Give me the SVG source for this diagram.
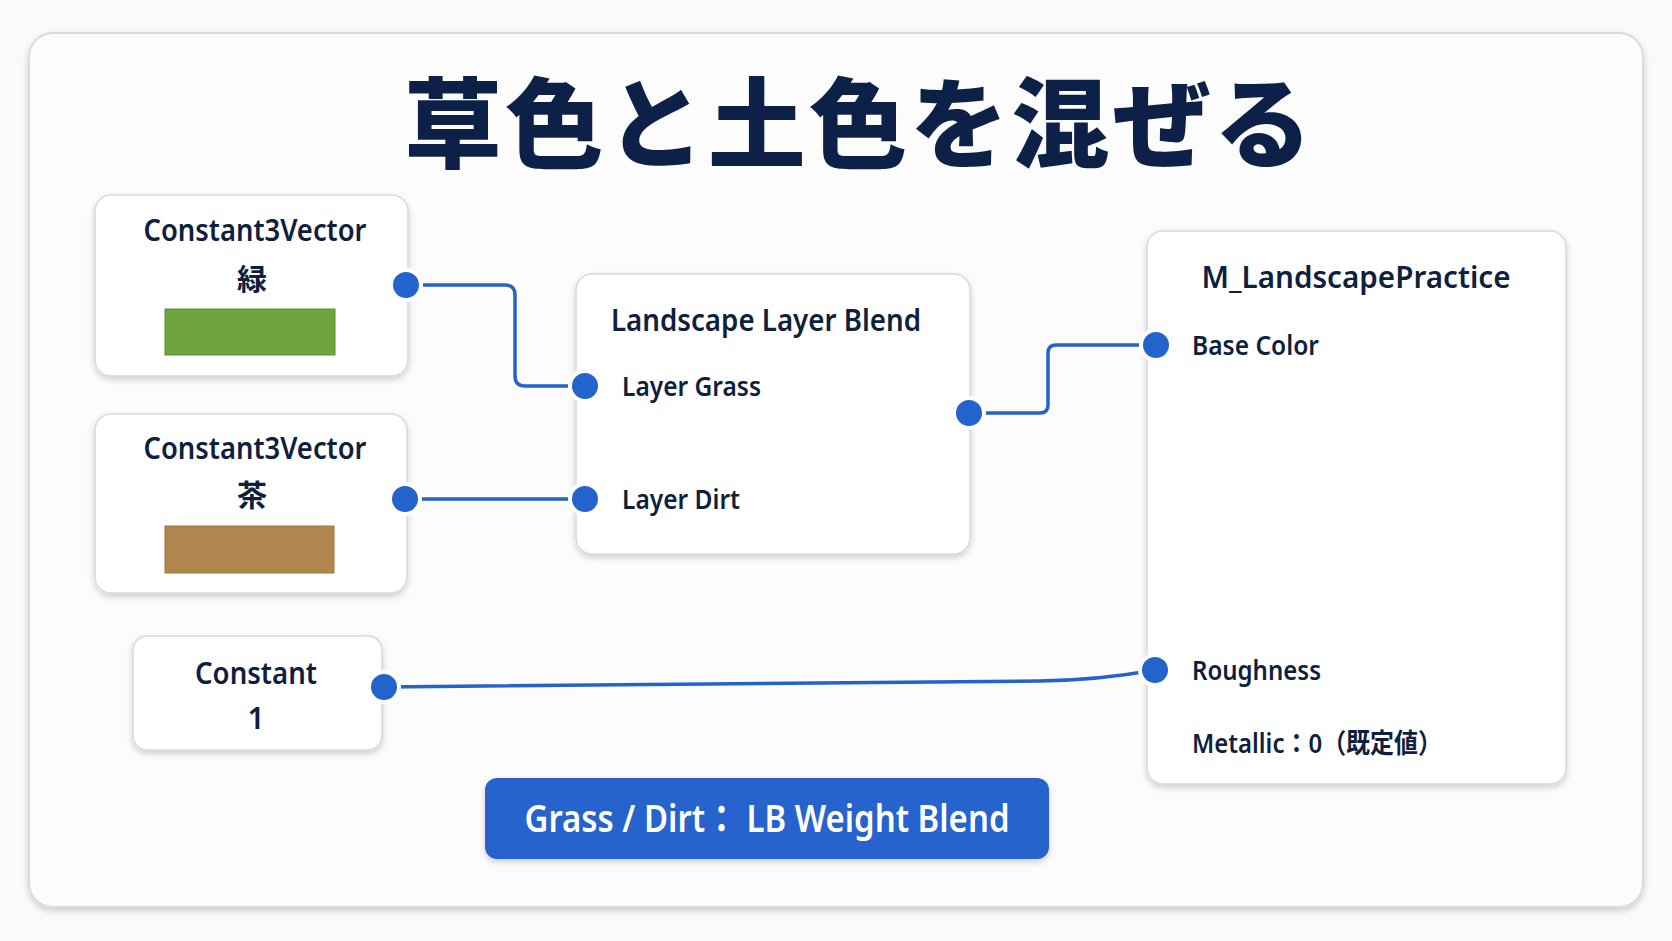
<svg xmlns="http://www.w3.org/2000/svg" width="1672" height="941" viewBox="0 0 1672 941">
<defs>
<filter id="sh" x="-10%" y="-10%" width="120%" height="125%"><feDropShadow dx="0" dy="3" stdDeviation="3" flood-color="#000" flood-opacity="0.18"/></filter>
<style>
.node{fill:#fff;stroke:#d6d9de;stroke-width:1.5;filter:url(#sh)}
.t{font-family:"Noto Sans","Noto Sans CJK JP",sans-serif;font-weight:600;fill:#0f1f3d}
.h{font-size:30px;text-anchor:middle}
.p{font-size:27px}
.port{fill:#2563cc;stroke:#fff;stroke-width:4}
.wire{fill:none;stroke:#2563cc;stroke-width:3.5}
</style>
</defs>
<rect width="1672" height="941" fill="#fafafa"/>
<rect x="29" y="33" width="1614" height="874" rx="24" fill="#fcfcfc" stroke="#d9dbe0" stroke-width="2" filter="url(#sh)"/>
<text x="858" y="160" text-anchor="middle" font-family="'Noto Sans CJK JP',sans-serif" font-weight="900" font-size="98" fill="#0d2148" textLength="908" lengthAdjust="spacing">草色と土色を混ぜる</text>
<g id="connectors">
<path class="wire" d="M406 285 H505 Q515 285 515 295 V376 Q515 386 525 386 H585"/>
<path class="wire" d="M405 499 H585"/>
<path class="wire" d="M969 413 H1040 Q1048 413 1048 405 V353 Q1048 345 1056 345 H1156"/>
<path class="wire" d="M384 687 L1040 681 Q1100 680 1155 670"/>
</g>
<g id="vec-green">
<rect class="node" x="95" y="195" width="313" height="181" rx="16"/>
<text class="t h" x="255" y="241" textLength="223" lengthAdjust="spacingAndGlyphs">Constant3Vector</text>
<text class="t h" x="252" y="290">緑</text>
<rect x="165" y="309" width="170" height="46" fill="#6ea43d" stroke="#5d9233"/>
<circle class="port" cx="406" cy="285" r="15"/>
</g>
<g id="vec-brown">
<rect class="node" x="95" y="414" width="312" height="179" rx="16"/>
<text class="t h" x="255" y="459" textLength="223" lengthAdjust="spacingAndGlyphs">Constant3Vector</text>
<text class="t h" x="252" y="506">茶</text>
<rect x="165" y="526" width="169" height="47" fill="#b0864e" stroke="#a07640"/>
<circle class="port" cx="405" cy="499" r="15"/>
</g>
<g id="constant">
<rect class="node" x="133" y="636" width="249" height="114" rx="14"/>
<text class="t h" x="256" y="684" textLength="122" lengthAdjust="spacingAndGlyphs">Constant</text>
<text class="t h" x="256" y="729">1</text>
<circle class="port" cx="384" cy="687" r="15"/>
</g>
<g id="blend">
<rect class="node" x="576" y="274" width="394" height="280" rx="16"/>
<text class="t h" x="766" y="331" textLength="310" lengthAdjust="spacingAndGlyphs">Landscape Layer Blend</text>
<circle class="port" cx="585" cy="386" r="15"/>
<text class="t p" x="622" y="396" textLength="139" lengthAdjust="spacingAndGlyphs">Layer Grass</text>
<circle class="port" cx="585" cy="499" r="15"/>
<text class="t p" x="622" y="509" textLength="118" lengthAdjust="spacingAndGlyphs">Layer Dirt</text>
<circle class="port" cx="969" cy="413" r="15"/>
</g>
<g id="material">
<rect class="node" x="1147" y="231" width="419" height="553" rx="16"/>
<text class="t h" x="1356" y="288" textLength="309" lengthAdjust="spacingAndGlyphs">M_LandscapePractice</text>
<circle class="port" cx="1156" cy="345" r="15"/>
<text class="t p" x="1192" y="355" textLength="127" lengthAdjust="spacingAndGlyphs">Base Color</text>
<circle class="port" cx="1155" cy="670" r="15"/>
<text class="t p" x="1192" y="680" textLength="129" lengthAdjust="spacingAndGlyphs">Roughness</text>
<text class="t p" x="1192" y="753" textLength="250" lengthAdjust="spacingAndGlyphs">Metallic：0（既定値）</text>
</g>
<g id="note">
<rect x="485" y="778" width="564" height="81" rx="12" fill="#2563cc" filter="url(#sh)"/>
<text x="767" y="832" text-anchor="middle" font-family="'Noto Sans','Noto Sans CJK JP',sans-serif" font-weight="600" font-size="38" fill="#fff" textLength="485" lengthAdjust="spacingAndGlyphs">Grass / Dirt： LB Weight Blend</text>
</g>
</svg>
